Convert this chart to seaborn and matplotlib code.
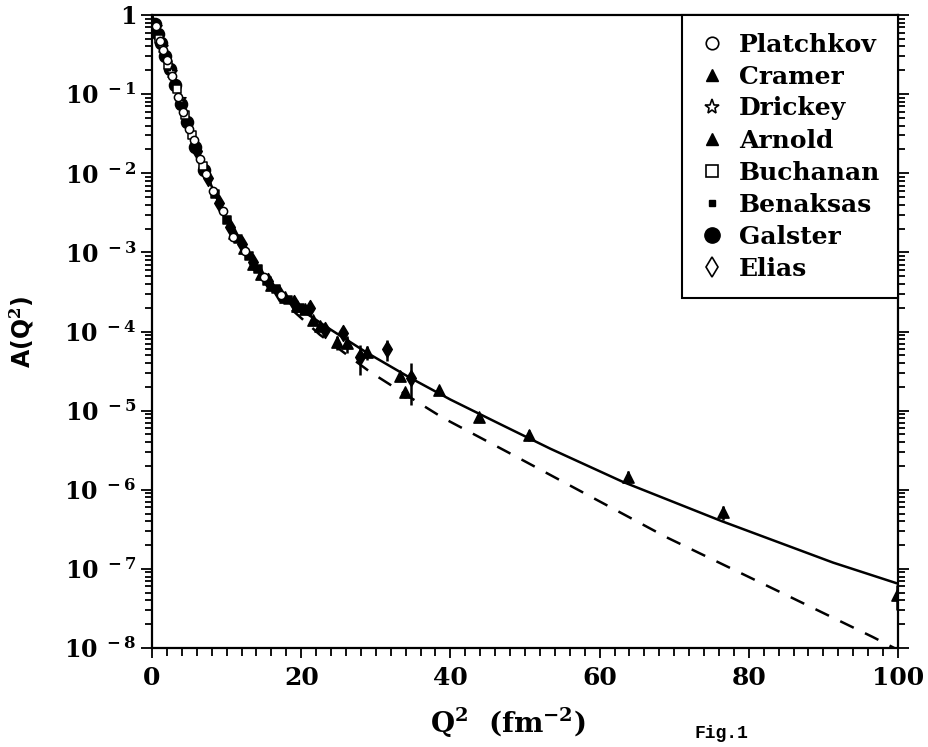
import numpy as np
import pandas as pd
import matplotlib
matplotlib.use("Agg")
import matplotlib.pyplot as plt
from matplotlib.lines import Line2D
from matplotlib.ticker import FixedLocator, FixedFormatter, LogLocator, NullFormatter, MultipleLocator
import seaborn as sns

# ---------------- data ----------------
# theory curves
curve_q2 = [0, 1, 2, 3, 4.5, 6.4, 8.2, 10.2, 12.7, 14.9, 17.5, 20.5, 24, 28.8, 34.6, 40,
            46.6, 53.4, 63.1, 76.4, 91.3, 100]
curve_A = [1.0, 0.50, 0.263, 0.141, 0.050, 0.0148, 6.2e-3, 2.3e-3, 9.8e-4, 4.9e-4, 2.8e-4,
           1.74e-4, 1.05e-4, 5.4e-5, 2.6e-5, 1.38e-5, 6.8e-6, 3.3e-6, 1.26e-6, 4.0e-7, 1.2e-7, 6.5e-8]

dash_q2 = [0, 1, 2, 3, 4.5, 6.4, 8.2, 10.2, 12.7, 14.9, 17.5, 20, 22.5, 29.2, 35.9, 39,
           48.4, 69, 84, 96.6, 99.5]
dash_A = [1.0, 0.50, 0.263, 0.141, 0.050, 0.0148, 6.2e-3, 2.3e-3, 9.8e-4, 4.7e-4, 2.4e-4,
          1.48e-4, 9.1e-5, 3.1e-5, 1.23e-5, 8.1e-6, 2.75e-6, 2.5e-7, 5.2e-8, 1.38e-8, 1.0e-8]

# experiments
plat_q2 = [0.6, 1.1, 1.5, 2.0, 2.7, 3.5, 4.2, 5.0, 5.6, 6.4, 7.2, 8.2, 9.5, 10.9, 12.5, 15.0, 17.3]
plat_A = [0.72, 0.47, 0.36, 0.27, 0.17, 0.093, 0.060, 0.036, 0.026, 0.0150, 9.8e-3, 6.0e-3,
          3.3e-3, 1.55e-3, 1.05e-3, 4.9e-4, 2.9e-4]

cram_q2 = [11.0, 12.3, 13.6, 14.6, 16.0, 17.8, 19.5, 20.5, 21.6, 22.5, 24.8]
cram_A = [1.78e-3, 1.12e-3, 7.2e-4, 5.4e-4, 3.9e-4, 2.7e-4, 2.1e-4, 1.95e-4, 1.38e-4, 1.17e-4, 7.4e-5]
cram_err = [0.04, 0.05, 0.05, 0.06, 0.07, 0.08, 0.10, 0.10, 0.12, 0.12, 0.20]

dric_q2 = [0.5, 1.4, 2.5, 3.7]
dric_A = [0.71, 0.39, 0.193, 0.087]

arn_q2 = [26.1, 28.8, 33.2, 33.9, 38.5, 43.8, 50.6, 63.8, 76.5, 99.9]
arn_A = [7.1e-5, 5.5e-5, 2.75e-5, 1.7e-5, 1.82e-5, 8.3e-6, 4.9e-6, 1.45e-6, 5.2e-7, 4.7e-8]
arn_err = [0.25, 0.20, 0.15, 0.15, 0.12, 0.11, 0.16, 0.18, 0.20, 0.35]

buch_q2 = [1.0, 2.2, 3.3, 4.4, 5.3, 6.8]
buch_A = [0.50, 0.232, 0.115, 0.054, 0.030, 0.0124]

bena_q2 = [8.5, 10.0, 11.5, 13.0, 14.2, 15.4, 16.6, 18.2, 19.8]
bena_A = [5.4e-3, 2.6e-3, 1.48e-3, 8.9e-4, 6.2e-4, 4.4e-4, 3.4e-4, 2.5e-4, 2.0e-4]

gals_q2 = [0.4, 0.8, 1.2, 1.8, 2.4, 3.1, 3.9, 4.7, 5.8, 7.0]
gals_A = [0.76, 0.575, 0.44, 0.30, 0.205, 0.132, 0.076, 0.044, 0.0217, 0.0110]

elias_q2 = [6.0, 7.5, 9.0, 10.5, 12.0, 13.5, 15.5, 17.0, 19.0, 21.2, 23.2, 25.6, 27.9, 31.5, 34.7]
elias_A = [0.019, 8.7e-3, 4.2e-3, 2.1e-3, 1.26e-3, 7.6e-4, 4.3e-4, 3.1e-4, 2.3e-4, 2.0e-4,
           1.05e-4, 9.5e-5, 4.8e-5, 6.0e-5, 2.6e-5]
elias_err = [0.05, 0.05, 0.06, 0.06, 0.07, 0.08, 0.10, 0.10, 0.12, 0.12, 0.15, 0.15, 0.42, 0.30, 0.55]

y_ticks = [1, 1e-1, 1e-2, 1e-3, 1e-4, 1e-5, 1e-6, 1e-7, 1e-8]
y_labels = ["1"] + [r"$10^{\,\,-%d}$" % k for k in range(1, 9)]
x_ticks = [0, 20, 40, 60, 80, 100]
legend_labels = ["Platchkov", "Cramer", "Drickey", "Arnold", "Buchanan", "Benaksas", "Galster", "Elias"]

# ---------------- style ----------------
sns.set_style("ticks")
plt.rcParams["font.family"] = ["DejaVu Serif", "DejaVu Sans"]
plt.rcParams["font.weight"] = "bold"
plt.rcParams["mathtext.fontset"] = "dejavuserif"
plt.rcParams["mathtext.default"] = "bf"
for key in ["text.color", "axes.labelcolor", "xtick.color", "ytick.color", "axes.edgecolor"]:
    plt.rcParams[key] = "black"

fig = plt.figure(figsize=(9.29, 7.47), dpi=100)
ax = fig.add_axes([152 / 929, 1 - 648 / 747, 746 / 929, 633 / 747])

# curves
sns.lineplot(x=curve_q2, y=curve_A, color="black", lw=1.8, ax=ax, sort=False, estimator=None)
sns.lineplot(x=dash_q2, y=dash_A, color="black", lw=1.8, ax=ax, sort=False, estimator=None,
             linestyle=(0, (6, 5)))

def pts(q, a, marker, face, size, lw=1.1, err=None):
    if err is not None:
        a_arr = np.array(a)
        e = np.array(err) * a_arr
        ax.errorbar(q, a, yerr=e, fmt="none", ecolor="black", elinewidth=1.8, capsize=0, zorder=3)
    sns.scatterplot(x=q, y=a, marker=marker, color=face, edgecolor="black", s=size,
                    linewidth=lw, ax=ax, zorder=4, legend=False)

pts(gals_q2, gals_A, "o", "black", 75)
pts(elias_q2, elias_A, "d", "black", 65, err=elias_err)
pts(cram_q2, cram_A, "^", "black", 65, err=cram_err)
pts(arn_q2, arn_A, "^", "black", 65, err=arn_err)
pts(bena_q2, bena_A, "s", "black", 30)
pts(buch_q2, buch_A, "s", "white", 35)
pts(dric_q2, dric_A, "*", "white", 70)
pts(plat_q2, plat_A, "o", "white", 35)

ax.set_yscale("log")
ax.set_xlim(0, 100)
ax.set_ylim(1e-8, 1)

ax.yaxis.set_major_locator(FixedLocator(y_ticks))
ax.yaxis.set_major_formatter(FixedFormatter(y_labels))
ax.yaxis.set_minor_locator(LogLocator(base=10, subs=np.arange(2, 10), numticks=20))
ax.yaxis.set_minor_formatter(NullFormatter())
ax.xaxis.set_major_locator(FixedLocator(x_ticks))
ax.xaxis.set_minor_locator(MultipleLocator(2))

ax.tick_params(axis="both", which="both", direction="out", color="black", labelcolor="black", width=1.3)
ax.tick_params(axis="y", which="major", length=8, labelsize=17, pad=3, right=True)
ax.tick_params(axis="y", which="minor", length=5, right=True)
ax.tick_params(axis="x", which="major", length=7, labelsize=18, pad=6)
ax.tick_params(axis="x", which="minor", length=6)
for s in ax.spines.values():
    s.set_linewidth(1.6)
    s.set_color("black")

ax.set_ylabel(r"A(Q$^{2}$)", fontsize=17, family="DejaVu Sans", fontweight="bold", color="black")
ax.yaxis.set_label_coords(-0.155, 0.5)
ax.set_xlabel(r"Q$^{2}$  (fm$^{-2}$)", fontsize=20, fontweight="bold", color="black")
ax.xaxis.set_label_coords(0.477, -0.092)

fig.text(694 / 929, 1 - 733 / 747, "Fig.1", family="Liberation Mono", fontweight="bold",
         fontsize=13, va="center", ha="left", color="black")

handles = [
    Line2D([], [], ls="none", marker="o", mfc="white", mec="black", ms=9, mew=1.2),
    Line2D([], [], ls="none", marker="^", mfc="black", mec="black", ms=9),
    Line2D([], [], ls="none", marker="*", mfc="white", mec="black", ms=11, mew=1.2),
    Line2D([], [], ls="none", marker="^", mfc="black", mec="black", ms=9),
    Line2D([], [], ls="none", marker="s", mfc="white", mec="black", ms=8, mew=1.2),
    Line2D([], [], ls="none", marker="s", mfc="black", mec="black", ms=5),
    Line2D([], [], ls="none", marker="o", mfc="black", mec="black", ms=11),
    Line2D([], [], ls="none", marker="d", mfc="white", mec="black", ms=10, mew=1.2),
]
leg = ax.legend(handles, legend_labels, loc="upper right", bbox_to_anchor=(1, 1),
                borderaxespad=0, frameon=True, fancybox=False, framealpha=1,
                edgecolor="black", handlelength=1.0, handletextpad=0.6,
                labelspacing=0.32, borderpad=0.7,
                prop=dict(family="DejaVu Serif", weight="bold", size=18))
leg.get_frame().set_linewidth(1.5)
for t in leg.get_texts():
    t.set_color("black")

fig.savefig("out.png", dpi=100)
